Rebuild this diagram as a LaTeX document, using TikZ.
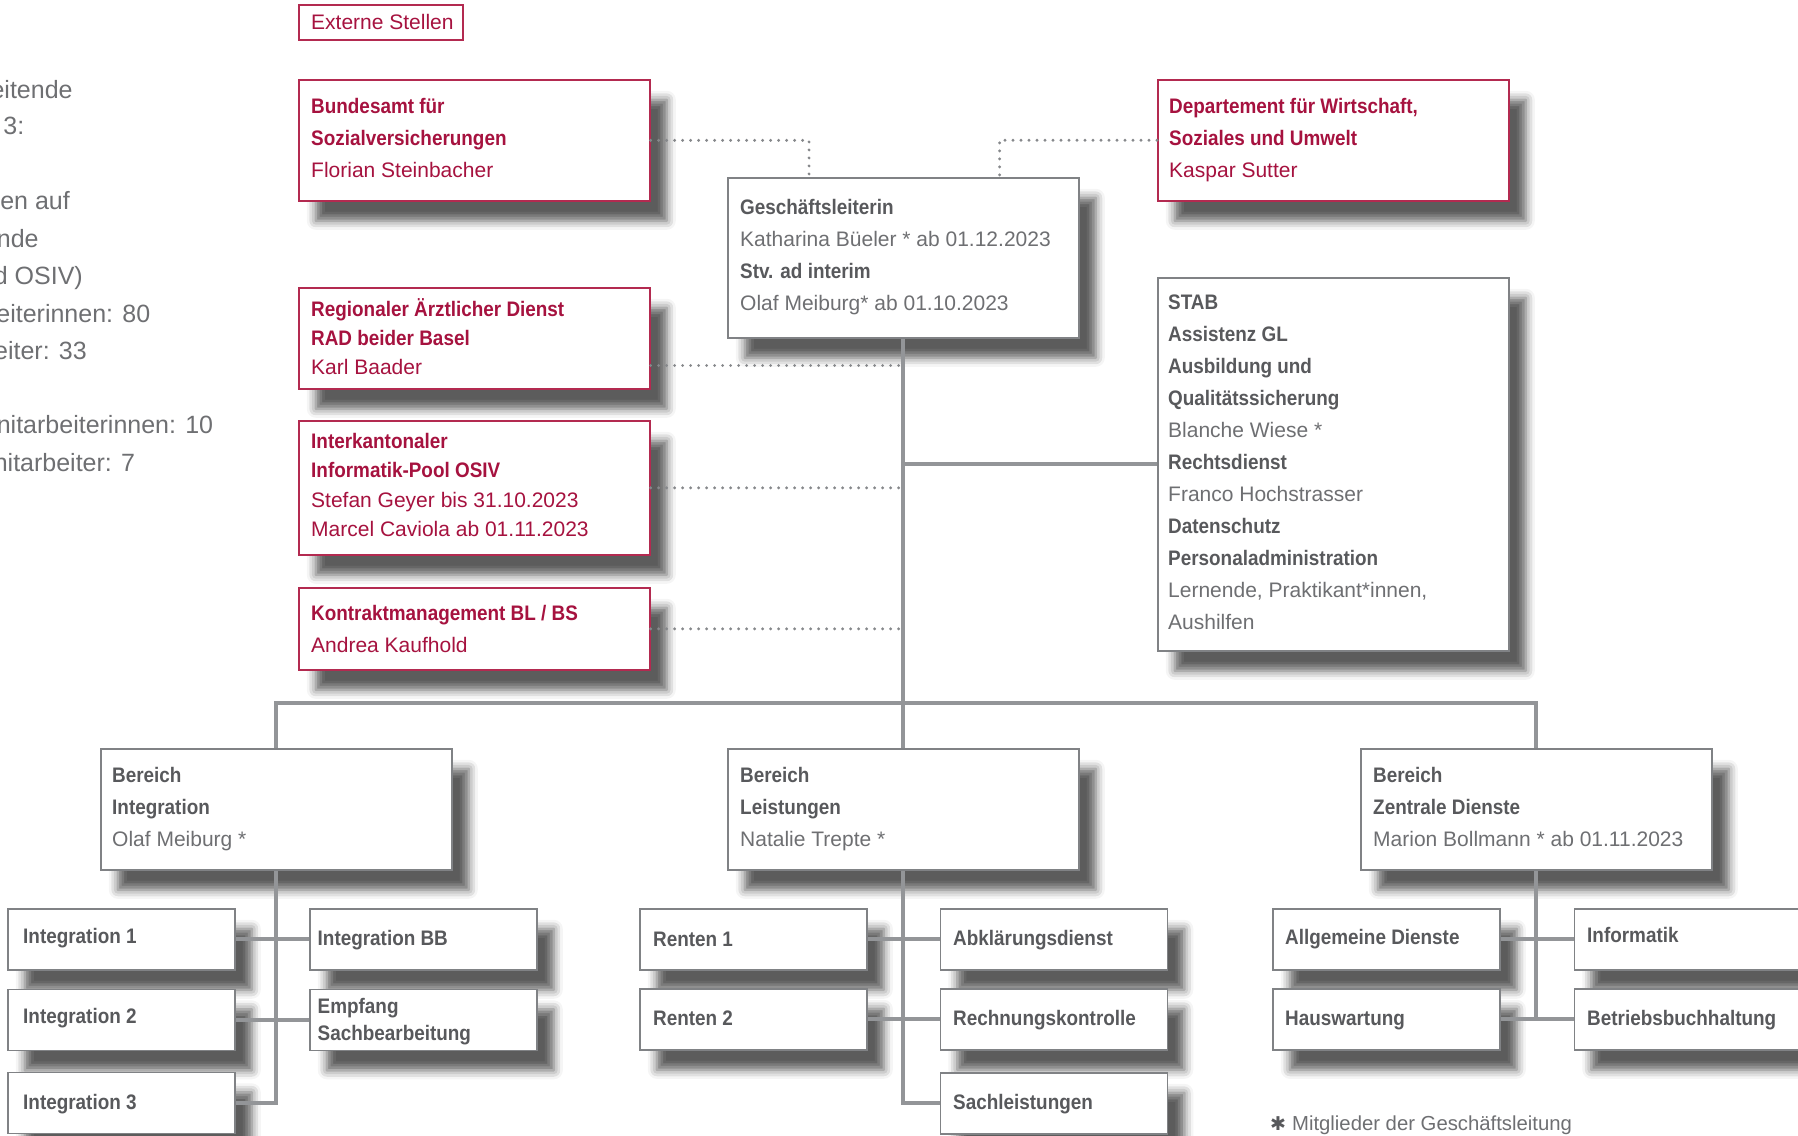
\documentclass[tikz,border=0pt]{standalone}
\usepackage{fontspec}
\setmainfont{Liberation Sans}[BoldFeatures={FakeStretch=0.9}]
\newfontfamily\dejavu{DejaVu Sans}
\usetikzlibrary{shadows.blur}
\definecolor{ored}{HTML}{A6123F}
\definecolor{oredline}{HTML}{B32A50}
\definecolor{ogrey}{HTML}{6E6F72}
\definecolor{ogreyb}{HTML}{58595C}
\definecolor{oborder}{HTML}{808285}
\definecolor{oline}{HTML}{939598}
\definecolor{odots}{HTML}{86888B}
\newcommand{\tl}[1]{\begin{tabular}[t]{@{}l@{}}#1\end{tabular}}
\newcommand{\hd}[1]{\textbf{\color{ogreyb}#1}}
\begin{document}
\begin{tikzpicture}[x=1pt,y=-1pt,
  box/.style={draw=oborder,line width=1.6pt,fill=white,inner sep=0pt,anchor=north west,
    blur shadow={shadow xshift=17pt,shadow yshift=-20pt,shadow blur radius=9pt,shadow opacity=64}},
  redbox/.style={box,draw=oredline},
  big/.style={minimum width=351pt},
  small/.style={minimum width=227pt,minimum height=61pt},
  txt/.style={inner sep=0pt,anchor=base west,text=ogrey,font=\fontsize{21}{32}\selectfont},
  redtxt/.style={txt,text=ored},
  lefttxt/.style={inner sep=0pt,anchor=base east,text=ogrey,font=\fontsize{25}{30}\selectfont},
  conn/.style={draw=oline,line width=4.3pt},
  dots/.style={draw=odots,line width=3.2pt,line cap=round,dash pattern=on 0pt off 8pt},
]
\useasboundingbox (0,0) rectangle (1798,1135);

% left clipped text
\node[lefttxt] (l1) at (72.8,98.3) {eitende};
\node[lefttxt] (l2) at (24.5,134) {3:};
\node[lefttxt] (l3) at (70,209.5) {en auf};
\node[lefttxt] (l4) at (38.8,247) {nde};
\node[lefttxt] (l5) at (83,284.5) {d OSIV)};
\node[lefttxt] (l6) at (150.4,322) {eiterinnen: 80};
\node[lefttxt] (l7) at (87,359) {eiter: 33};
\node[lefttxt] (l8) at (213.4,433.5) {nitarbeiterinnen: 10};
\node[lefttxt] (l9) at (135.3,471) {nitarbeiter: 7};

% boxes
\node[draw=oredline,line width=1.6pt,inner sep=0pt,anchor=north west,minimum width=164pt,minimum height=35pt] (ext) at (298,4) {};
\node[redbox,big,minimum height=121pt] (bund) at (298,79) {};
\node[redbox,big,minimum height=121pt] (dep) at (1157,79) {};
\node[box,big,minimum height=160pt] (gl) at (727,177) {};
\node[box,big,minimum height=373pt] (stab) at (1157,277) {};
\node[redbox,big,minimum height=101pt] (rad) at (298,287) {};
\node[redbox,big,minimum height=134pt] (ikp) at (298,420) {};
\node[redbox,big,minimum height=82pt] (kon) at (298,587) {};
\node[box,big,minimum height=121pt] (bi) at (100,748) {};
\node[box,big,minimum height=121pt] (bl) at (727,748) {};
\node[box,big,minimum height=121pt] (bz) at (1360,748) {};

\node[box,small] (i1) at (7,908) {};
\node[box,small] (i2) at (7,988.5) {};
\node[box,small] (i3) at (7,1071.5) {};
\node[box,small] (ibb) at (309,908) {};
\node[box,small] (emp) at (309,988.5) {};
\node[box,small] (r1) at (639,908) {};
\node[box,small] (r2) at (639,988) {};
\node[box,small] (abk) at (939.5,908) {};
\node[box,small] (rek) at (939.5,988) {};
\node[box,small] (sac) at (939.5,1072) {};
\node[box,small] (all) at (1272,908) {};
\node[box,small] (hau) at (1272,988) {};
\node[box,small] (inf) at (1573.5,908) {};
\node[box,small] (bet) at (1573.5,988) {};

% texts
\node[redtxt] (ext-t) at (311,29.3) {Externe Stellen};
\node[redtxt] (bund-t) at (311,113.5) {\tl{\textbf{Bundesamt für}\\\textbf{Sozialversicherungen}\\Florian Steinbacher}};
\node[redtxt] (dep-t) at (1169,113.8) {\tl{\textbf{Departement für Wirtschaft,}\\\textbf{Soziales und Umwelt}\\Kaspar Sutter}};
\node[txt] (gl-t) at (740,214) {\tl{\hd{Geschäftsleiterin}\\Katharina Büeler * ab 01.12.2023\\\hd{Stv. ad interim}\\Olaf Meiburg* ab 01.10.2023}};
\node[txt] (stab-t) at (1168,309.4) {\tl{\hd{STAB}\\\hd{Assistenz GL}\\\hd{Ausbildung und}\\\hd{Qualitätssicherung}\\Blanche Wiese *\\\hd{Rechtsdienst}\\Franco Hochstrasser\\\hd{Datenschutz}\\\hd{Personaladministration}\\Lernende, Praktikant*innen,\\Aushilfen}};
\node[redtxt,font=\fontsize{21}{29.4}\selectfont] (rad-t) at (311,316) {\tl{\textbf{Regionaler Ärztlicher Dienst}\\\textbf{RAD beider Basel}\\Karl Baader}};
\node[redtxt,font=\fontsize{21}{29.4}\selectfont] (ikp-t) at (311,448.3) {\tl{\textbf{Interkantonaler}\\\textbf{Informatik-Pool OSIV}\\Stefan Geyer bis 31.10.2023\\Marcel Caviola ab 01.11.2023}};
\node[redtxt] (kon-t) at (311,620.5) {\tl{\textbf{Kontraktmanagement BL / BS}\\Andrea Kaufhold}};
\node[txt] (bi-t) at (112,782.6) {\tl{\hd{Bereich}\\\hd{Integration}\\Olaf Meiburg *}};
\node[txt] (bl-t) at (740,782.6) {\tl{\hd{Bereich}\\\hd{Leistungen}\\Natalie Trepte *}};
\node[txt] (bz-t) at (1373,782.6) {\tl{\hd{Bereich}\\\hd{Zentrale Dienste}\\Marion Bollmann * ab 01.11.2023}};
\node[txt] (i1-t) at (23,943) {\hd{Integration 1}};
\node[txt] (i2-t) at (23,1023) {\hd{Integration 2}};
\node[txt] (i3-t) at (23,1109) {\hd{Integration 3}};
\node[txt] (ibb-t) at (317.5,945) {\hd{Integration BB}};
\node[txt,font=\fontsize{21}{27}\selectfont] (emp-t) at (317.5,1013.6) {\tl{\hd{Empfang}\\\hd{Sachbearbeitung}}};
\node[txt] (r1-t) at (653,946) {\hd{Renten 1}};
\node[txt] (r2-t) at (653,1025.7) {\hd{Renten 2}};
\node[txt] (abk-t) at (953,945) {\hd{Abklärungsdienst}};
\node[txt] (rek-t) at (953,1025) {\hd{Rechnungskontrolle}};
\node[txt] (sac-t) at (953,1109) {\hd{Sachleistungen}};
\node[txt] (all-t) at (1285,944) {\hd{Allgemeine Dienste}};
\node[txt] (hau-t) at (1285,1025) {\hd{Hauswartung}};
\node[txt] (inf-t) at (1587,942.7) {\hd{Informatik}};
\node[txt] (bet-t) at (1587,1025) {\hd{Betriebsbuchhaltung}};
\node[txt,font=\fontsize{20.3}{24}\selectfont] (fn) at (1270,1130) {{\dejavu\fontsize{19}{19}\selectfont\color{ogreyb}✱}\hspace{6pt}Mitglieder der Geschäftsleitung};

% solid connectors
\coordinate (busy) at (0,703);
\draw[conn] (gl.south) -- (bl.north);
\draw[conn] (gl.south |- stab.west) -- (stab.west);
\draw[conn] (bi.north) -- (bi.north |- busy) -- (bz.north |- busy) -- (bz.north);
\draw[conn] (bi.south) |- (i3.east);
\draw[conn] (i1.east) -- (ibb.west);
\draw[conn] (i2.east) -- (emp.west);
\draw[conn] (bl.south) |- (sac.west);
\draw[conn] (r1.east) -- (abk.west);
\draw[conn] (r2.east) -- (rek.west);
\draw[conn] (bz.south) -- (bz.south |- hau.east);
\draw[conn] (all.east) -- (inf.west);
\draw[conn] (hau.east) -- (bet.west);

% dotted connectors
\coordinate (gla) at ([xshift=82pt]gl.north west);
\coordinate (glb) at ([xshift=-80pt]gl.north east);
\coordinate (ra) at ([yshift=-27.2pt]rad.east);
\draw[dots] (bund.east) -| (gla);
\draw[dots] (dep.west) -| (glb);
\draw[dots] (ra) -- (ra -| gl.south);
\draw[dots] (ikp.east) -- (ikp.east -| gl.south);
\draw[dots] (kon.east) -- (kon.east -| gl.south);
\end{tikzpicture}
\end{document}
